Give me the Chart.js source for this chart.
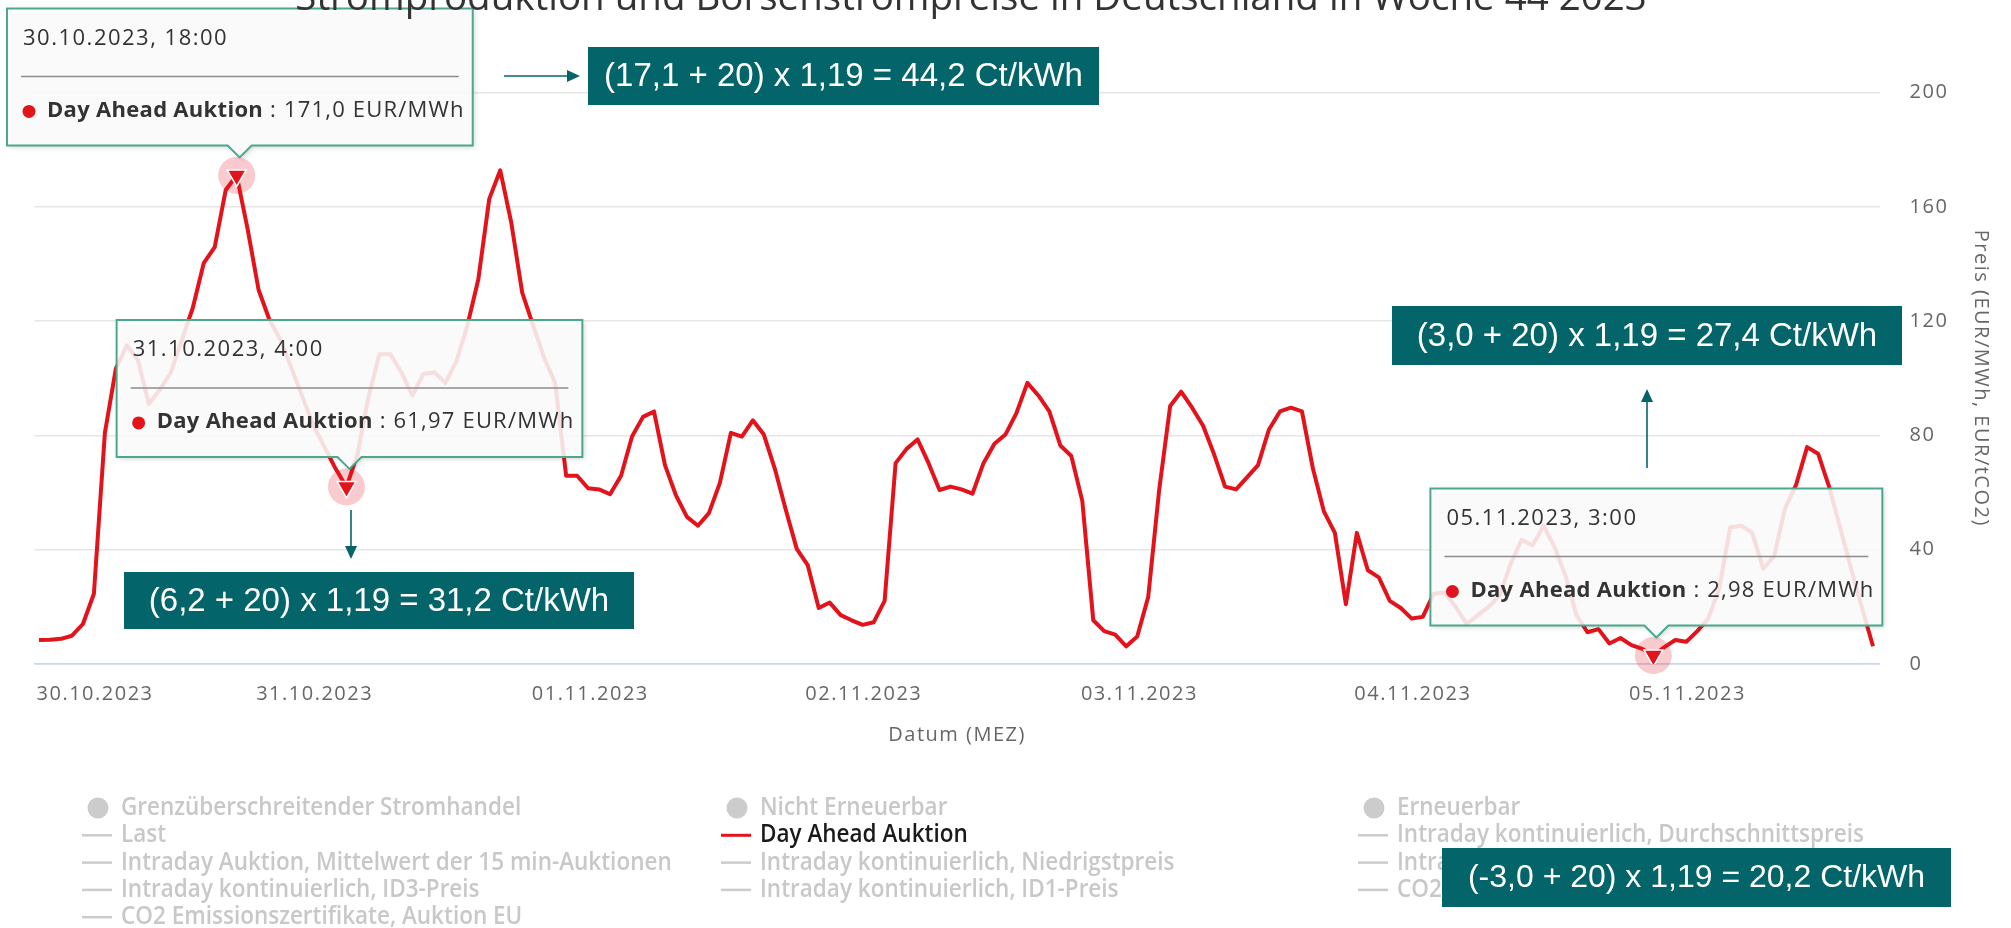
<!DOCTYPE html>
<html><head><meta charset="utf-8">
<script src="https://cdn.jsdelivr.net/npm/chart.js@4.4.0/dist/chart.umd.min.js"></script>
<style>html,body{margin:0;padding:0;background:#fff;overflow:hidden}canvas{display:block}</style>
</head><body>
<canvas id="c" width="2011" height="928"></canvas>
<script>
// ---------- data ----------
const titleText = "Stromproduktion und Börsenstrompreise in Deutschland in Woche 44 2023";
const seriesName = "Day Ahead Auktion";
const unitText = "EUR/MWh";
const xTitle = "Datum (MEZ)";
const yTitle = "Preis (EUR/MWh, EUR/tCO2)";
const dayLabels = ["30.10.2023","31.10.2023","01.11.2023","02.11.2023","03.11.2023","04.11.2023","05.11.2023"];
const tickHours = [5.1, 25.1, 50.2, 75.1, 100.2, 125.1, 150.1];
const yTickValues = [0, 40, 80, 120, 160, 200];
const dayAhead = [
  8.4, 8.5, 8.8, 9.9, 14.0, 24.6, 80.9, 103.4, 111.5, 106.5,
  91.0, 96.0, 102.0, 113.4, 124.6, 140.3, 145.9, 165.9, 171.0, 152.2,
  130.9, 120.3, 113.4, 103.4, 93.4, 83.4, 75.9, 68.4, 61.97, 73.4,
  93.4, 108.4, 108.4, 102.1, 94.0, 101.5, 102.1, 98.4, 105.9, 118.4,
  134.6, 162.8, 172.8, 154.6, 130.0, 118.4, 107.1, 98.4, 65.9, 65.9,
  61.5, 61.1, 59.4, 65.9, 79.6, 86.5, 88.4, 69.6, 59.0, 51.5,
  48.4, 52.8, 63.4, 80.9, 79.6, 85.3, 80.3, 68.4, 54.0, 40.3,
  34.6, 19.6, 21.5, 17.1, 15.3, 13.7, 14.6, 22.1, 70.3, 75.3,
  78.6, 70.3, 60.9, 62.1, 61.1, 59.6, 70.3, 77.1, 80.3, 87.8,
  98.4, 94.0, 88.4, 76.5, 72.8, 57.1, 15.3, 11.5, 10.3, 6.2,
  9.6, 23.4, 60.9, 90.3, 95.3, 89.7, 83.4, 73.4, 62.1, 61.1,
  65.3, 69.6, 82.1, 88.4, 89.7, 88.4, 68.4, 53.4, 45.9, 20.9,
  45.9, 32.8, 30.3, 22.1, 19.6, 15.9, 16.5, 24.6, 25.0, 20.0,
  14.0, 17.0, 20.0, 24.0, 35.0, 43.5, 41.5, 48.4, 40.9, 30.9,
  17.1, 11.1, 12.2, 7.2, 9.1, 6.6, 5.3, 2.98, 5.9, 8.4,
  7.8, 11.5, 15.9, 26.5, 47.8, 48.4, 45.9, 33.4, 37.8, 54.6,
  62.8, 75.9, 73.6, 62.1, 47.8, 33.4, 19.6, 6.2
];
const highlightHours = [18, 28, 147];
const noteTexts = [
  "(17,1 + 20) x 1,19 = 44,2 Ct/kWh",
  "(6,2 + 20) x 1,19 = 31,2 Ct/kWh",
  "(3,0 + 20) x 1,19 = 27,4 Ct/kWh",
  "(-3,0 + 20) x 1,19 = 20,2 Ct/kWh"
];
const legendNames = [
  "Grenzüberschreitender Stromhandel", "Nicht Erneuerbar", "Erneuerbar",
  "Last", "Day Ahead Auktion", "Intraday kontinuierlich, Durchschnittspreis",
  "Intraday Auktion, Mittelwert der 15 min-Auktionen", "Intraday kontinuierlich, Niedrigstpreis", "Intraday kontinuierlich, Höchstpreis",
  "Intraday kontinuierlich, ID3-Preis", "Intraday kontinuierlich, ID1-Preis", "CO2 Emissionszertifikate, Auktion DE",
  "CO2 Emissionszertifikate, Auktion EU"
];
const legendKinds = ["area","area","area","line","line","line","line","line","line","line","line","line","line"];
const legendActive = [false,false,false,false,true,false,false,false,false,false,false,false,false];

// ---------- layout / style (not data) ----------
const RED = '#e3131b';
const TEAL = '#03646a';
const FONT = '"Open Sans", sans-serif';
const noteBoxes = [[588,47,511,58],[124,572,510,57],[1392,306,510,59],[1442,848,509,59]];
const noteFontSize = [33,33,33,32];
const arrows = [[504,76,580,76],[351,510,351,559],[1647,468,1647,389]];
const legendCols = [121, 760, 1397];
const legendRow0 = 808, legendRowStep = 27.3;

const hourLabel = h => dayLabels[Math.floor(h/24)] + ', ' + (h % 24) + ':00';
const fmtVal = v => v.toLocaleString('de-DE', {minimumFractionDigits: 1, maximumFractionDigits: 2});

Chart.defaults.font.family = FONT;

const spacingPlugin = {
  id: 'spacing',
  beforeLayout(c){ c.ctx.letterSpacing = '1.5px'; },
  beforeDraw(c){ c.ctx.letterSpacing = '1.5px'; }
};

const titlePlugin = {
  id: 'topTitle',
  afterDraw(c){
    const ctx = c.ctx; ctx.save();
    ctx.letterSpacing = '0px';
    ctx.font = '38.5px ' + FONT; ctx.fillStyle = '#333';
    ctx.textAlign = 'center'; ctx.textBaseline = 'alphabetic';
    ctx.fillText(titleText, 971, 10);
    ctx.restore();
  }
};

const haloPlugin = {
  id: 'halo',
  beforeDatasetsDraw(c){
    const meta = c.getDatasetMeta(0), ctx = c.ctx;
    ctx.save(); ctx.fillStyle = 'rgba(228,20,30,0.22)';
    highlightHours.forEach(h => { const p = meta.data[h]; ctx.beginPath(); ctx.arc(p.x, p.y, 18.5, 0, Math.PI*2); ctx.fill(); });
    ctx.restore();
  }
};

function drawTip(ctx, px, py, header, valueStr){
  ctx.save();
  ctx.letterSpacing = '1.5px'; ctx.font = '22px ' + FONT; const hw = ctx.measureText(header).width;
  ctx.letterSpacing = '0.3px'; ctx.font = '700 22px ' + FONT; const nw = ctx.measureText(seriesName).width;
  ctx.letterSpacing = '1.2px'; ctx.font = '22px ' + FONT; const vText = ' : ' + valueStr + ' ' + unitText; const vw = ctx.measureText(vText).width;
  const W = Math.max(16 + hw, 40 + nw + vw) + 8, H = 137;
  const cx = px + 3;
  const left = Math.max(cx - W/2, 7), bottom = py - 30, top = bottom - H;
  ctx.beginPath();
  ctx.moveTo(left, top); ctx.lineTo(left+W, top); ctx.lineTo(left+W, bottom);
  ctx.lineTo(cx+12, bottom); ctx.lineTo(cx, bottom+12); ctx.lineTo(cx-12, bottom);
  ctx.lineTo(left, bottom); ctx.closePath();
  ctx.shadowColor = 'rgba(0,0,0,0.18)'; ctx.shadowBlur = 5; ctx.shadowOffsetX = 2; ctx.shadowOffsetY = 2;
  ctx.fillStyle = 'rgba(255,255,255,0.86)'; ctx.fill();
  ctx.shadowColor = 'transparent';
  ctx.strokeStyle = '#4aa98b'; ctx.lineWidth = 2; ctx.stroke();
  ctx.textBaseline = 'middle'; ctx.textAlign = 'left';
  ctx.letterSpacing = '1.5px'; ctx.font = '22px ' + FONT; ctx.fillStyle = '#333';
  ctx.fillText(header, left + 16, top + 30);
  ctx.strokeStyle = '#8c8c8c'; ctx.lineWidth = 1.5;
  ctx.beginPath(); ctx.moveTo(left + 14, top + 68); ctx.lineTo(left + W - 14, top + 68); ctx.stroke();
  ctx.fillStyle = RED; ctx.beginPath(); ctx.arc(left + 22, top + 103, 6.5, 0, Math.PI*2); ctx.fill();
  ctx.fillStyle = '#333';
  ctx.letterSpacing = '0.3px'; ctx.font = '700 22px ' + FONT; ctx.fillText(seriesName, left + 40, top + 102);
  ctx.letterSpacing = '1.2px'; ctx.font = '22px ' + FONT; ctx.fillText(vText, left + 40 + nw, top + 102);
  ctx.restore();
}

const tipPlugin = {
  id: 'tips',
  afterDatasetsDraw(c){
    const meta = c.getDatasetMeta(0);
    highlightHours.forEach(h => { const p = meta.data[h]; drawTip(c.ctx, p.x, p.y, hourLabel(h), fmtVal(dayAhead[h])); });
  }
};

const legendPlugin = {
  id: 'customLegend',
  afterDraw(c){
    const ctx = c.ctx; ctx.save();
    ctx.letterSpacing = '0px';
    legendNames.forEach((name, i) => {
      const col = i % 3, row = Math.floor(i / 3);
      const tx = legendCols[col], y = legendRow0 + row * legendRowStep, sx = tx - 24;
      const color = legendActive[i] ? RED : '#cccccc';
      if (legendKinds[i] === 'area') {
        ctx.fillStyle = color; ctx.beginPath(); ctx.arc(sx + 1, y, 10.5, 0, Math.PI*2); ctx.fill();
      } else {
        ctx.strokeStyle = color; ctx.lineWidth = legendActive[i] ? 3 : 2.5;
        ctx.beginPath(); ctx.moveTo(sx - 15, y); ctx.lineTo(sx + 15, y); ctx.stroke();
      }
      ctx.save(); ctx.translate(tx, y); ctx.scale(0.9, 1);
      ctx.font = '600 25px ' + FONT; ctx.textBaseline = 'middle'; ctx.textAlign = 'left';
      ctx.fillStyle = legendActive[i] ? '#1a1a1a' : '#c8c8c8';
      ctx.fillText(name, 0, 0);
      ctx.restore();
    });
    ctx.restore();
  }
};

const notesPlugin = {
  id: 'notes',
  afterDraw(c){
    const ctx = c.ctx; ctx.save();
    ctx.letterSpacing = '0px';
    ctx.strokeStyle = TEAL; ctx.fillStyle = TEAL; ctx.lineWidth = 1.6;
    arrows.forEach(([x1,y1,x2,y2]) => {
      const a = Math.atan2(y2-y1, x2-x1), L = 13, Wd = 6;
      const bx = x2 - L*Math.cos(a), by = y2 - L*Math.sin(a);
      ctx.beginPath(); ctx.moveTo(x1,y1); ctx.lineTo(bx,by); ctx.stroke();
      ctx.beginPath(); ctx.moveTo(x2,y2);
      ctx.lineTo(bx - Wd*Math.sin(a), by + Wd*Math.cos(a));
      ctx.lineTo(bx + Wd*Math.sin(a), by - Wd*Math.cos(a)); ctx.closePath(); ctx.fill();
    });
    noteTexts.forEach((t, i) => {
      const [x,y,w,h] = noteBoxes[i];
      ctx.fillStyle = TEAL; ctx.fillRect(x, y, w, h);
      ctx.fillStyle = '#ffffff'; ctx.font = noteFontSize[i] + 'px "Liberation Sans", Arial, sans-serif';
      ctx.textAlign = 'center'; ctx.textBaseline = 'middle';
      ctx.fillText(t, x + w/2, y + h/2 + 1);
    });
    ctx.restore();
  }
};

const points = dayAhead.map((v, i) => ({x: i, y: v}));
const isHi = i => highlightHours.includes(i);

new Chart(document.getElementById('c'), {
  type: 'line',
  data: { datasets: [{
    label: seriesName, data: points,
    borderColor: RED, borderWidth: 4, tension: 0, fill: false,
    borderJoinStyle: 'round',
    pointStyle: 'triangle', pointRotation: 180,
    pointRadius: ctx => isHi(ctx.dataIndex) ? 11 : 0,
    pointBackgroundColor: RED, pointBorderColor: '#ffffff', pointBorderWidth: 1.5
  }]},
  options: {
    responsive: false, animation: false, devicePixelRatio: 1, events: [],
    layout: { padding: { top: 92.6, left: 34.6, right: 0, bottom: 174 } },
    plugins: { legend: { display: false }, tooltip: { enabled: false }, title: { display: false } },
    scales: {
      x: {
        type: 'linear', min: -0.4, max: 167.6,
        afterBuildTicks: s => { s.ticks = tickHours.map(v => ({ value: v })); },
        afterFit: s => { s.height = 90; },
        ticks: { autoSkip: false, maxRotation: 0, padding: 18, color: '#666', font: { size: 20 },
                 callback: (v, i) => dayLabels[i] },
        grid: { display: false, drawTicks: false },
        border: { display: true, color: '#ccd6eb', width: 1.5 },
        title: { display: true, text: xTitle, color: '#666', font: { size: 20 }, padding: { top: 0, bottom: 7 } }
      },
      y: {
        position: 'right', min: 0, max: 200,
        afterBuildTicks: s => { s.ticks = yTickValues.map(v => ({ value: v })); },
        afterFit: s => { s.width = 131.4; },
        ticks: { padding: 30, color: '#666', font: { size: 20 } },
        grid: { drawTicks: false, lineWidth: 1.5, color: c => c.tick && c.tick.value === 0 ? '#ccd6eb' : '#e6e6e6' },
        border: { display: false },
        title: { display: true, text: yTitle, color: '#666', font: { size: 20 }, padding: { top: 18, bottom: 0 } }
      }
    }
  },
  plugins: [spacingPlugin, haloPlugin, tipPlugin, titlePlugin, legendPlugin, notesPlugin]
});
</script>
</body></html>
